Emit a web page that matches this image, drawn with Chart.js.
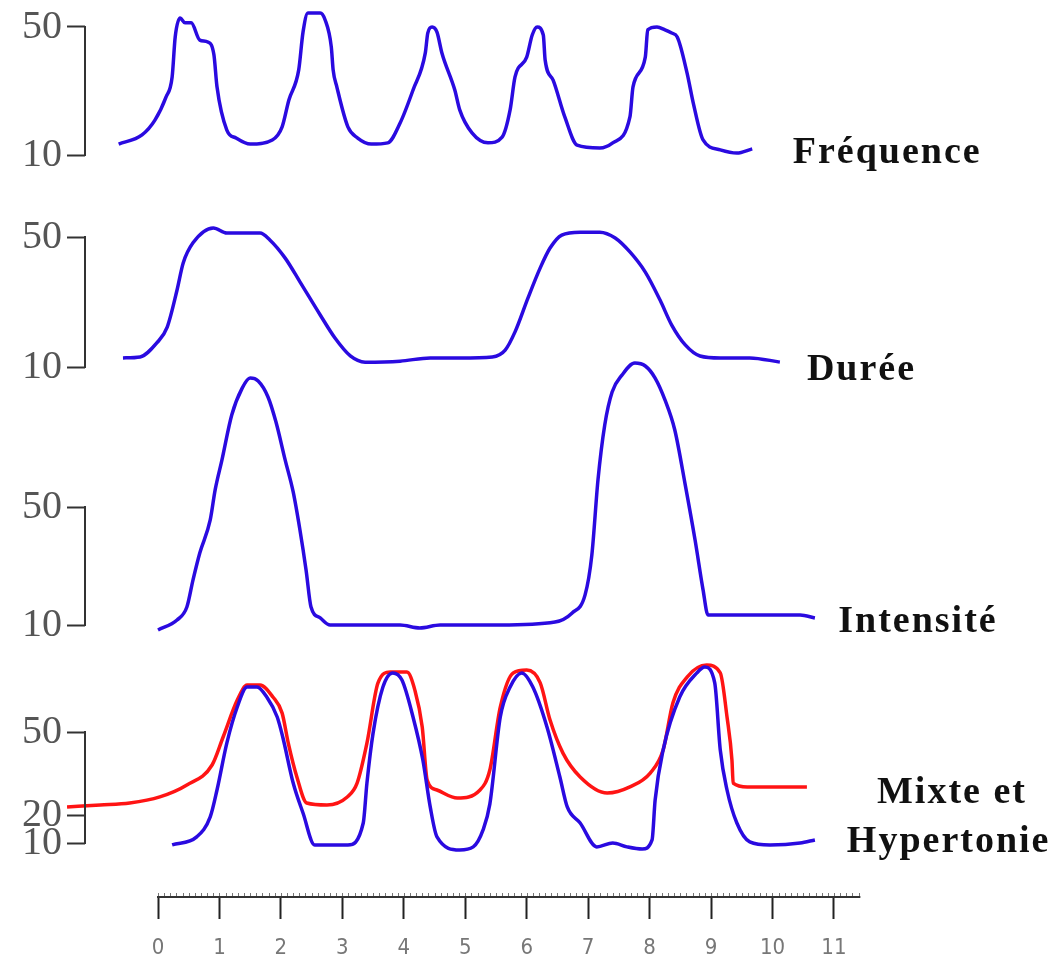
<!DOCTYPE html>
<html>
<head>
<meta charset="utf-8">
<script src="https://cdn.jsdelivr.net/npm/chart.js@4.4.1/dist/chart.umd.min.js"></script>
<style>
  html, body { margin: 0; padding: 0; background: #fff; }
  canvas { display: block; }
</style>
</head>
<body>
<canvas id="chart" width="1060" height="959"></canvas>
<script>
// x axis
const xTicks = [0, 1, 2, 3, 4, 5, 6, 7, 8, 9, 10, 11];
const xAxisEnd = 11.43;

// Fréquence
const freqX = [-0.64,-0.26,-0.05,0.13,0.23,0.28,0.36,0.44,0.54,0.68,0.81,0.91,0.96,1.12,1.27,1.50,1.86,2.02,2.13,2.29,2.36,2.44,2.64,2.72,2.82,2.85,2.91,3.09,3.25,3.47,3.74,3.94,4.15,4.35,4.39,4.46,4.54,4.62,4.83,4.91,5.11,5.37,5.60,5.73,5.81,6.00,6.09,6.17,6.27,6.30,6.43,6.62,6.82,7.19,7.40,7.68,7.73,7.93,7.97,8.12,8.25,8.36,8.45,8.61,8.71,8.87,9.15,9.42,9.67];
const freqY = [13.4,16.3,20.9,28.1,34.4,46.9,52.8,51.3,51.3,45.9,45.3,41.3,31.3,17.8,15.3,13.4,14.7,18.8,27.2,36.6,48.4,54.4,54.4,52.2,43.8,36.6,31.3,18.8,15.3,13.4,13.8,20.0,30.3,41.9,48.1,50.0,48.4,41.9,30.3,24.1,16.9,13.8,15.6,24.1,34.4,40.6,47.5,50.0,47.5,39.7,33.4,21.9,13.1,12.2,13.8,21.9,31.3,40.6,49.1,50.0,49.1,48.1,46.9,35.6,26.3,14.7,11.6,10.6,11.9];

// Durée
const durX = [-0.57,-0.29,-0.02,0.15,0.31,0.41,0.57,0.90,1.12,1.66,1.82,2.07,2.31,2.64,2.88,3.13,3.37,3.94,4.43,4.92,5.44,5.65,5.81,6.02,6.22,6.38,6.57,6.87,7.19,7.44,7.68,7.93,8.17,8.36,8.58,8.82,9.15,9.63,10.12];
const durY = [12.8,13.1,17.4,22.3,33.7,42.0,48.2,52.8,51.2,51.2,49.1,43.5,36.2,26.0,18.9,13.4,11.5,11.8,12.8,12.8,13.1,15.2,20.8,31.2,40.5,46.6,50.6,51.5,51.5,49.7,45.4,39.2,30.6,22.9,16.8,13.4,12.8,12.8,11.5];

// Intensité
const intX = [0.00,0.31,0.47,0.57,0.68,0.85,0.93,1.04,1.20,1.37,1.50,1.63,1.79,1.92,2.07,2.20,2.31,2.41,2.49,2.64,2.80,3.94,4.26,4.59,5.57,6.46,6.74,6.95,7.06,7.16,7.27,7.39,7.55,7.76,7.93,8.09,8.25,8.41,8.58,8.74,8.87,8.95,10.45,10.69];
const intY = [8.3,11.7,16.1,25.3,34.4,45.6,55.8,65.9,81.2,90.3,93.7,92.7,87.3,78.8,65.9,55.1,42.2,28.6,16.1,12.4,10.0,10.0,9.0,10.0,10.0,11.0,14.1,20.2,33.7,59.2,77.8,89.0,94.7,98.8,97.8,93.7,86.3,76.1,57.5,38.8,21.9,13.4,13.4,12.4];

// Mixte (rouge) et Hypertonie (bleu)
const mixRedX = [-1.48,-0.94,-0.46,0.03,0.47,0.88,1.06,1.29,1.45,1.66,1.87,2.02,2.12,2.26,2.42,2.75,3.08,3.24,3.40,3.58,3.78,4.05,4.18,4.30,4.38,4.54,4.87,5.24,5.40,5.57,5.78,6.00,6.22,6.38,6.59,6.87,7.31,7.68,8.01,8.22,8.38,8.61,8.93,9.15,9.26,9.34,9.36,9.59,9.96,10.56];
const mixRedY = [23.0,23.7,24.4,26.6,30.9,38.1,48.2,61.5,66.9,66.9,62.6,56.8,46.0,33.8,24.4,23.7,26.6,31.6,46.0,67.7,71.6,71.6,65.1,51.8,32.7,29.1,26.2,29.1,36.3,59.0,71.3,72.3,67.7,54.3,42.4,33.8,28.0,30.2,35.2,43.5,60.5,69.8,74.1,71.3,55.4,39.9,31.6,30.2,30.2,30.2];
const mixBlueX = [0.23,0.63,0.85,0.96,1.12,1.29,1.45,1.61,1.77,1.94,2.03,2.20,2.36,2.55,3.09,3.34,3.40,3.50,3.66,3.82,3.97,4.15,4.31,4.43,4.54,4.91,5.13,5.29,5.40,5.57,5.73,5.92,6.10,6.33,6.54,6.66,6.87,7.14,7.40,7.63,7.88,8.04,8.09,8.22,8.49,8.77,8.90,9.06,9.15,9.26,9.42,9.63,9.96,10.45,10.69];
const mixBlueY = [9.3,12.2,19.4,29.1,46.0,59.0,66.2,66.2,62.6,55.4,48.2,31.6,20.8,9.3,9.3,17.2,31.6,49.6,66.2,71.3,68.7,55.4,39.9,23.0,12.2,7.5,8.6,14.7,24.0,55.4,66.2,71.3,66.2,51.8,33.8,23.0,17.2,8.6,10.0,8.6,7.8,11.1,25.5,43.5,62.6,71.3,73.4,67.7,43.5,29.1,17.2,10.4,9.3,10.0,11.1];

// y ticks of each panel
const panelTicks = [[10, 50], [10, 50], [10, 50], [10, 20, 50]];

// panel labels: text, x value, y value on the panel axis
const panelLabels = [
  ['Fréquence', 10.33, 7.5, 'y1'],
  ['Durée', 10.56, 6.0, 'y2'],
  ['Intensité', 11.07, 7.6, 'y3'],
  ['Mixte et', 11.70, 24.4, 'y4'],
  ['Hypertonie', 11.21, 6.8, 'y4']
];

// layout (pixels): where 50 and 10 of each panel sit
const W = 1060, leftPad = 85, plotBottom = 897, x0Px = 158, pxPerUnit = 61.45;
const panelPx = [[27, 155], [237, 367], [507, 625], [732, 843]];

const blue = '#2a0ae0', red = '#ff1414';
const pts = (xs, ys) => xs.map((x, i) => ({ x: x, y: ys[i] }));

const noPad = s => { s.paddingTop = 0; s.paddingBottom = 0; s.paddingLeft = 0; s.paddingRight = 0; };

const yScale = (i) => {
  const p50 = panelPx[i][0], p10 = panelPx[i][1];
  const k = (p10 - p50) / 40;
  return {
    type: 'linear',
    position: 'left',
    min: 10 - (plotBottom - p10) / k,
    max: 50 + p50 / k,
    afterBuildTicks: s => { s.ticks = panelTicks[i].map(v => ({ value: v })); },
    afterFit: s => { s.width = 0; noPad(s); },
    border: { display: false },
    grid: { drawOnChartArea: false, tickLength: 18, tickWidth: 2, tickColor: '#333' },
    ticks: {
      padding: 5,
      color: '#555',
      font: { family: '"Liberation Serif", serif', size: 40 },
      callback: v => String(v)
    }
  };
};

const frame = {
  id: 'frame',
  afterLayout(chart) {
    // let the stacked y axes share the left margin so their labels are not clipped
    ['y1', 'y2', 'y3', 'y4'].forEach(id => { chart.scales[id].left = 0; });
  },
  afterDraw(chart) {
    const ctx = chart.ctx, xs = chart.scales.x;
    ctx.save();
    ctx.strokeStyle = '#333';
    ctx.lineWidth = 2;
    // brackets from 10 to 50
    ['y1', 'y2', 'y3', 'y4'].forEach(id => {
      const s = chart.scales[id];
      ctx.beginPath();
      ctx.moveTo(s.right, s.getPixelForValue(10) + 1);
      ctx.lineTo(s.right, s.getPixelForValue(50) - 1);
      ctx.stroke();
    });
    // x axis line with small ticks
    const yb = chart.chartArea.bottom;
    ctx.beginPath();
    ctx.moveTo(xs.getPixelForValue(0) - 1, yb);
    ctx.lineTo(xs.getPixelForValue(xAxisEnd), yb);
    ctx.stroke();
    ctx.lineWidth = 1;
    ctx.strokeStyle = '#777';
    ctx.beginPath();
    for (let v = 0; v <= xAxisEnd; v += 0.1) {
      const px = Math.round(xs.getPixelForValue(v)) + 0.5;
      ctx.moveTo(px, yb - 1);
      ctx.lineTo(px, yb - 4);
    }
    ctx.stroke();
    // panel names
    ctx.fillStyle = '#111';
    ctx.font = 'bold 38px "Liberation Serif", serif';
    ctx.letterSpacing = '2px';
    ctx.textBaseline = 'alphabetic';
    ctx.textAlign = 'left';
    panelLabels.forEach(([t, xv, yv, id]) => {
      ctx.fillText(t, xs.getPixelForValue(xv), chart.scales[id].getPixelForValue(yv));
    });
    ctx.restore();
  }
};

const line = (data, color, axis, order) => ({
  data: data,
  yAxisID: axis,
  borderColor: color,
  borderWidth: 3.5,
  pointRadius: 0,
  cubicInterpolationMode: 'monotone',
  fill: false,
  clip: false,
  order: order
});

new Chart(document.getElementById('chart'), {
  type: 'line',
  data: {
    datasets: [
      line(pts(freqX, freqY), blue, 'y1', 1),
      line(pts(durX, durY), blue, 'y2', 1),
      line(pts(intX, intY), blue, 'y3', 1),
      line(pts(mixBlueX, mixBlueY), blue, 'y4', 1),
      line(pts(mixRedX, mixRedY), red, 'y4', 2)
    ]
  },
  options: {
    responsive: false,
    animation: false,
    layout: { autoPadding: false, padding: { left: leftPad, top: 0, right: 0, bottom: 0 } },
    plugins: { legend: { display: false }, tooltip: { enabled: false } },
    scales: {
      x: {
        type: 'linear',
        min: -(x0Px - leftPad) / pxPerUnit,
        max: (W - x0Px) / pxPerUnit,
        afterBuildTicks: s => { s.ticks = xTicks.map(v => ({ value: v })); },
        afterFit: s => { s.height = 959 - plotBottom; noPad(s); },
        border: { display: false },
        grid: { drawOnChartArea: false, tickLength: 22, tickWidth: 2, tickColor: '#222' },
        ticks: {
          padding: 16,
          color: '#777',
          maxRotation: 0,
          font: { family: '"Liberation Sans Narrow", "DejaVu Sans Condensed", sans-serif', size: 22 },
          callback: v => String(v)
        }
      },
      y1: yScale(0),
      y2: yScale(1),
      y3: yScale(2),
      y4: yScale(3)
    }
  },
  plugins: [frame]
});
</script>
</body>
</html>
